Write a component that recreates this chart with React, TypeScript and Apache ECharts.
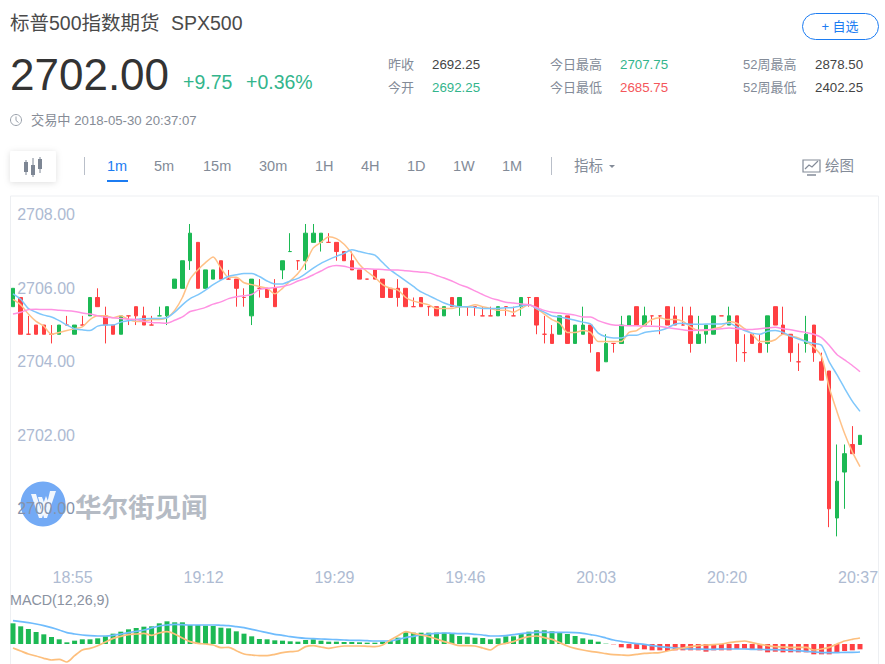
import React, { useEffect, useRef } from "react";
import * as echarts from "echarts";

const PRICE_BASE = 2700;
const START_MINUTE = 18 * 60 + 47;
const BAR_COUNT = 111;
const TICK_OFFSET = 8;
const TICK_STEP = 17;
const PRICE_TICKS = [2700, 2702, 2704, 2706, 2708];
const GREEN_DOJI = [19, 36];

const opens = [5.5,5.75,4.75,5,5,4.75,4.75,5,4.75,5,5.25,5.75,5.25,5,4.75,5.25,5.5,5.25,5,5.25,5.25,6,6,6.75,7.25,6,6.25,6.75,6.25,6.25,5.75,5.25,6,6,6,6.5,7,6.75,6.75,7.25,7.25,7.25,7.25,7,6.75,6.5,6.25,6.5,6.25,6,6,6,5.5,5.75,5.5,5.5,5.25,5.75,5.5,5.5,5.5,5.25,5.25,5.25,5.5,5.25,5.5,5.75,5.75,4.75,4.75,4.75,5.25,4.5,4.75,5,4.25,4,4.5,4.5,5,5.5,5,5.25,5.25,5.5,5.25,5,5.25,4.5,4.75,4.75,5.25,5,5.25,4.25,4.75,4.5,4.5,5.5,5,4.75,4,4.5,5,4,3.75,-0.25,1,1.75,1.75];
const closes = [6,4.75,4.75,4.75,4.75,4.75,5,5,5,5,5.75,5.5,5,4.75,5.25,5.25,5.25,5,5,5.25,5.5,6.25,6.75,7.5,6,6.5,6.5,6.25,6.25,6,5.75,6.25,6,5.75,5.5,6.75,7,6.75,7.5,7.5,7.5,7.25,7,6.75,6.5,6.25,6.25,6.25,5.75,5.75,5.75,5.5,5.5,5.5,5.5,5.25,5.5,5.5,5.75,5.5,5.5,5.25,5.25,5.5,5.5,5.25,5.75,5.75,5,4.75,4.5,5.25,4.5,5,5,4.5,3.75,4.5,4.5,5,5.25,5,5.25,5.25,5.25,5,5,5,4.5,4.75,5,5.25,5.25,5.25,4.5,4.25,4.5,4.25,5.25,5,4.75,4.25,4,4.75,4.25,3.5,0,0.75,1.5,1.5,2];
const lows = [5.5,4.75,4.75,4.75,4.75,4.5,4.75,5,4.75,5,5.25,5.5,4.5,4.75,4.75,5,5,5,5,5.25,5,6,6,6.5,6,6,6.25,6.25,6.25,5.5,5.5,5,5.75,5.75,5.5,6.25,7,6.5,6.5,7.25,7,7.25,6.75,6.75,6.5,6.25,6.25,6.25,5.75,5.75,5.5,5.5,5.5,5.5,5.25,5.25,5.25,5.5,5.25,5.25,5.25,5.25,5.25,5.25,5.25,5.25,5.25,5.5,4.75,4.5,4.5,4.75,4.5,4.5,4.75,4.25,3.75,4,4.25,4.5,5,5,5,5,4.75,5,5,5,4.25,4.5,4.5,4.75,5.25,5,4,4,4.5,4.25,4.25,5,4.75,4,3.75,4.25,4,3.5,-0.5,-0.75,0,1.5,1.75];
const highs = [6,5.75,5.25,5,5,5,5,5.25,5,5.25,5.75,6,5.5,5,5.25,5.25,5.5,5.5,5.25,5.5,5.5,6.25,6.75,7.75,7.25,6.5,6.5,6.75,6.5,6.25,6,6.25,6.25,6,6.25,6.75,7.5,6.75,7.75,7.75,7.5,7.5,7.25,7,7,6.5,6.25,6.5,6.25,6,6.25,6,5.75,5.75,5.5,5.5,5.5,5.75,5.75,5.5,5.5,5.5,5.5,5.5,5.5,5.5,5.75,5.75,5.75,5.25,5,5.25,5.25,5,5.5,5,4.25,4.75,4.5,5.25,5.25,5.5,5.5,5.25,5.25,5.5,5.5,5.5,5.5,5.25,5,5.25,5.25,5.5,5.25,4.75,4.75,4.75,5.25,5.5,5.5,4.75,4.5,5.25,5,4.25,3.75,1.75,1.75,2.25,2];
const ma5 = [5.7,5.55,5.3,5.1,4.97,4.75,4.8,4.85,4.9,4.95,5.15,5.25,5.25,5.2,5.25,5.15,5.1,5.1,5.15,5.15,5.2,5.4,5.75,6.25,6.5,6.7,6.85,6.55,6.3,6.3,6.15,6.1,6.05,6,5.85,6,6.2,6.4,6.7,7.1,7.25,7.4,7.35,7.2,6.95,6.65,6.45,6.3,6.1,6,5.95,5.75,5.65,5.6,5.55,5.45,5.45,5.45,5.5,5.5,5.55,5.5,5.45,5.4,5.4,5.35,5.45,5.55,5.45,5.3,5.15,5.05,4.8,4.8,4.85,4.8,4.55,4.55,4.55,4.55,4.8,4.85,5,5.15,5.2,5.15,5.15,5.1,4.95,4.85,4.85,4.9,4.95,5.1,5.05,4.9,4.75,4.55,4.55,4.6,4.75,4.7,4.65,4.55,4.4,4.15,3.3,2.65,2.05,1.55,1.15];
const ma10 = [5.85,5.7,5.45,5.35,5.27,5.22,5.12,5,4.9,4.87,4.85,4.97,5,5,5.08,5.12,5.15,5.17,5.18,5.18,5.2,5.35,5.55,5.72,5.82,5.95,6.1,6.22,6.33,6.37,6.4,6.4,6.32,6.2,6.12,6.12,6.2,6.27,6.4,6.55,6.68,6.78,6.87,6.95,7.05,7,6.95,6.9,6.7,6.5,6.35,6.2,6.05,5.9,5.8,5.7,5.6,5.53,5.5,5.5,5.48,5.45,5.45,5.45,5.47,5.48,5.52,5.55,5.45,5.35,5.25,5.22,5.18,5.13,5.08,5.03,4.78,4.68,4.65,4.65,4.72,4.72,4.8,4.83,4.85,4.92,5.03,5.05,5.02,5.02,5.03,5.03,5.03,5.05,4.95,4.85,4.78,4.75,4.83,4.85,4.8,4.7,4.62,4.55,4.5,4.45,4,3.65,3.28,2.93,2.65];
const ma20 = [5.3,5.35,5.42,5.43,5.42,5.42,5.4,5.39,5.37,5.33,5.3,5.25,5.21,5.2,5.18,5.16,5.15,5.1,5.07,5.06,5.05,5.13,5.22,5.37,5.42,5.48,5.57,5.63,5.72,5.77,5.8,5.83,5.97,6,6.02,6.05,6.1,6.2,6.27,6.37,6.47,6.58,6.62,6.6,6.55,6.54,6.53,6.52,6.51,6.5,6.5,6.48,6.46,6.44,6.42,6.35,6.28,6.2,6.1,6.03,5.93,5.83,5.74,5.68,5.62,5.6,5.57,5.55,5.48,5.4,5.35,5.33,5.3,5.27,5.22,5.22,5.12,5.05,5,4.99,4.98,4.98,4.97,4.97,4.96,4.93,4.9,4.87,4.85,4.86,4.87,4.88,4.9,4.92,4.9,4.88,4.88,4.9,4.92,4.94,4.9,4.87,4.83,4.8,4.75,4.66,4.45,4.2,4.05,3.9,3.73];
const macdHist = [62,53,45,36,29,21,14,5,10,14,14,17,23,31,37,44,48,52,53,62,68,65,65,57,57,55,54,49,47,38,31,23,15,14,11,10,8,7,12,14,10,7,7,6,6,5,4,4,7,12,19,35,34,34,34,34,34,30,24,22,19,18,14,17,23,23,31,37,41,41,38,34,30,24,17,13,7,1,-1,-10,-13,-15,-16,-19,-19,-21,-19,-19,-19,-19,-23,-19,-19,-19,-15,-14,-15,-19,-25,-23,-25,-25,-25,-25,-31,-31,-31,-26,-21,-19,-16];
const macdDif = [70,67,64,60,55,49,42,34,30,27,25,24,24,26,30,34,38,42,48,54,57,59,58,57,57,57,57,56,55,52,49,44,39,34,29,26,22,19,17,16,15,14,13,12,11,11,10,9,9,9,14,19,23,27,30,32,33,32,31,31,29,27,24,24,25,28,31,33,35,35,35,35,35,34,32,28,24,18,12,8,4,1,-1,-5,-8,-10,-12,-14,-15,-15,-16,-16,-15,-15,-15,-15,-16,-16,-17,-17,-18,-19,-20,-22,-24,-26,-26,-26,-25,-25,-24];
const macdDea = [-12,-21,-30,-36,-43,-48,-46,-54,-35,-18,-13,-5,6,17,23,28,30,32,26,33,37,30,18,7,2,0,-3,-11,-10,-20,-30,-33,-35,-35,-31,-26,-23,-21,-8,-5,-9,-13,-9,-6,-6,-6,-7,-8,-3,12,25,37,32,27,22,15,7,1,-5,-5,-6,-12,-18,-3,2,7,16,22,24,19,14,4,-6,-13,-18,-22,-25,-29,-32,-33,-34,-31,-28,-27,-26,-21,-16,-12,-8,-5,-3,-2,0,4,7,9,4,-1,-5,-8,-9,-10,-10,-10,-18,-15,-10,0,9,14,18];

const FONT = "'Liberation Sans','Noto Sans CJK SC',sans-serif";
const CJK = "'Noto Sans CJK SC','Liberation Sans',sans-serif";
const UP = "#1cb954";
const DOWN = "#ff3f42";
const TEAL = "#33b58c";
const BLUE = "#1c7cf2";
const MUTED = "#838b98";

const times = Array.from({ length: BAR_COUNT }, (_, i) => {
  const m = START_MINUTE + i;
  return `${String(Math.floor(m / 60)).padStart(2, "0")}:${String(m % 60).padStart(2, "0")}`;
});

const txt = (text: string, x: number, y: number, fontSize: number, fill: string, extra: any = {}) => ({
  type: "text",
  x,
  y,
  style: { text, fontSize, fill, fontFamily: FONT, textVerticalAlign: "middle", textBaseline: "middle", ...extra },
});

const periods: [string, number][] = [["5m",154],["15m",203],["30m",259],["1H",315],["4H",361],["1D",407],["1W",453],["1M",502]];
const stats: [string, number, string, number, string, number][] = [
  ["昨收",388,"2692.25",432,"#444",64],["今开",388,"2692.25",432,TEAL,87],
  ["今日最高",550,"2707.75",620,TEAL,64],["今日最低",550,"2685.75",620,"#f4565b",87],
  ["52周最高",743,"2878.50",815,"#444",64],["52周最低",743,"2402.25",815,"#444",87],
];

const graphics: any[] = [
  { type: "line", shape: { x1: 10.5, y1: 196, x2: 878.5, y2: 196 }, style: { stroke: "#edeff2", lineWidth: 1 } },
  { type: "line", shape: { x1: 10.5, y1: 196, x2: 10.5, y2: 664 }, style: { stroke: "#edeff2", lineWidth: 1 } },
  { type: "line", shape: { x1: 878.5, y1: 196, x2: 878.5, y2: 664 }, style: { stroke: "#edeff2", lineWidth: 1 } },
  // watermark
  { type: "circle", shape: { cx: 43, cy: 504, r: 22.5 }, style: { fill: "#73aaf5" } },
  { type: "polygon", shape: { points: [[31,494],[36,494],[41,510],[46,496],[48,501],[42,518],[39,518]] }, style: { fill: "#fff", opacity: 0.9 } },
  { type: "polygon", shape: { points: [[38,497],[42,497],[46,508],[50,491],[56,491],[47,518],[44,518]] }, style: { fill: "#fff", opacity: 0.9 } },
  txt("华尔街见闻", 75, 505, 26.5, "#b5bbc4", { fontWeight: "bold", fontFamily: CJK }),
  // header
  txt("标普500指数期货", 10, 23, 19.5, "#4a4a4a"),
  txt("SPX500", 171, 23, 19.5, "#4a4a4a"),
  txt("2702.00", 10, 74, 44, "#333"),
  txt("+9.75", 183, 82, 19.5, TEAL),
  txt("+0.36%", 246, 82, 19.5, TEAL),
  { type: "rect", shape: { x: 802.5, y: 13.5, width: 76, height: 26, r: 13 }, style: { fill: "#fff", stroke: BLUE, lineWidth: 1 } },
  txt("+ 自选", 840, 26.5, 13, BLUE, { textAlign: "center" }),
  { type: "circle", shape: { cx: 16, cy: 120, r: 5.5 }, style: { fill: "none", stroke: "#9aa1ab", lineWidth: 1 } },
  { type: "polyline", shape: { points: [[16,116.5],[16,120.5],[18.5,122.5]] }, style: { fill: "none", stroke: "#9aa1ab", lineWidth: 1 } },
  txt("交易中 2018-05-30 20:37:07", 31, 120, 13.2, "#868c96"),
  // toolbar
  { type: "rect", shape: { x: 10, y: 151, width: 46, height: 31, r: 2 }, style: { fill: "#fff", shadowBlur: 6, shadowColor: "rgba(0,0,0,0.13)", shadowOffsetY: 1 } },
  { type: "line", shape: { x1: 26, y1: 160, x2: 26, y2: 175 }, style: { stroke: "#7d8694", lineWidth: 1 } },
  { type: "rect", shape: { x: 24, y: 162, width: 4, height: 10 }, style: { fill: "#7d8694" } },
  { type: "line", shape: { x1: 33, y1: 158, x2: 33, y2: 177 }, style: { stroke: "#7d8694", lineWidth: 1 } },
  { type: "rect", shape: { x: 31, y: 165, width: 4, height: 10 }, style: { fill: "#7d8694" } },
  { type: "line", shape: { x1: 40, y1: 157, x2: 40, y2: 173 }, style: { stroke: "#7d8694", lineWidth: 1 } },
  { type: "rect", shape: { x: 38, y: 159, width: 4, height: 10 }, style: { fill: "#7d8694" } },
  { type: "line", shape: { x1: 84.5, y1: 157, x2: 84.5, y2: 175 }, style: { stroke: "#b9bfc9", lineWidth: 1 } },
  { type: "line", shape: { x1: 551.5, y1: 157, x2: 551.5, y2: 175 }, style: { stroke: "#b9bfc9", lineWidth: 1 } },
  txt("1m", 107, 166, 14.5, BLUE),
  { type: "rect", shape: { x: 107, y: 180, width: 21, height: 2 }, style: { fill: BLUE } },
  txt("指标", 574, 166, 14.5, MUTED),
  { type: "polygon", shape: { points: [[609,165],[615,165],[612,168]] }, style: { fill: MUTED } },
  txt("绘图", 825, 166, 14.5, MUTED),
  { type: "rect", shape: { x: 803, y: 160, width: 17, height: 12 }, style: { fill: "none", stroke: MUTED, lineWidth: 1.2 } },
  { type: "polyline", shape: { points: [[805,169],[809,165],[812,167],[818,161]] }, style: { fill: "none", stroke: MUTED, lineWidth: 1.2 } },
  { type: "line", shape: { x1: 807, y1: 175, x2: 816, y2: 175 }, style: { stroke: MUTED, lineWidth: 1.5 } },
  txt("MACD(12,26,9)", 10, 600, 14.3, "#8a92a1"),
];
periods.forEach(([t, x]) => graphics.push(txt(t, x, 166, 14.5, MUTED)));
stats.forEach(([label, lx, value, vx, color, y]) => {
  graphics.push(txt(label, lx, y, 13, MUTED));
  graphics.push(txt(value, vx, y, 13.3, color));
});

const solid = (c: string) => ({ color: c, color0: c, borderColor: c, borderColor0: c, borderColorDoji: c, borderWidth: 1 });
const candleData = opens.map((o, i) => {
  const up = o === closes[i] ? GREEN_DOJI.includes(i) : closes[i] > o;
  return {
    value: [o + PRICE_BASE, closes[i] + PRICE_BASE, lows[i] + PRICE_BASE, highs[i] + PRICE_BASE],
    itemStyle: solid(up ? UP : DOWN),
  };
});
const line = (name: string, data: number[], color: string, width: number, xAxisIndex = 0, yAxisIndex = 0) => ({
  name, type: "line", data, xAxisIndex, yAxisIndex, symbol: "none", smooth: 0.25, z: 5,
  lineStyle: { color, width }, silent: true,
});
const price = (a: number[]) => a.map((v) => v + PRICE_BASE);

export default function App() {
  const ref = useRef<HTMLDivElement>(null);
  useEffect(() => {
    const chart = echarts.init(ref.current!, undefined, { renderer: "svg" });
    chart.setOption({
      animation: false,
      backgroundColor: "#fff",
      textStyle: { fontFamily: FONT },
      graphic: { elements: graphics },
      grid: [
        { left: 9.15, width: 854.7, top: 214.8, height: 330.75 },
        { left: 9.15, width: 854.7, top: 610, height: 54 },
      ],
      xAxis: [
        {
          type: "category", data: times, gridIndex: 0,
          axisLine: { show: false }, axisTick: { show: false }, splitLine: { show: false },
          axisLabel: {
            interval: (i: number) => (i - TICK_OFFSET) % TICK_STEP === 0,
            color: "#aebbd2", fontSize: 16, margin: 24, padding: [0, 4, 0, 0], fontFamily: FONT,
          },
        },
        { type: "category", data: times, gridIndex: 1, show: false },
      ],
      yAxis: [
        {
          type: "value", gridIndex: 0, min: 2699, max: 2708, scale: true, z: 8,
          axisLine: { show: false }, axisTick: { show: false }, splitLine: { show: false },
          axisLabel: {
            inside: true, margin: 8, customValues: PRICE_TICKS,
            formatter: (v: number) => v.toFixed(2),
            color: (v: any) => (Number(v) === PRICE_TICKS[0] ? "#8592ab" : "#adbad2"),
            fontSize: 16, fontFamily: FONT,
          },
        },
        { type: "value", gridIndex: 1, min: -60, max: 102, show: false, splitLine: { show: false } },
      ],
      series: [
        { name: "K", type: "candlestick", data: candleData, barWidth: 4, xAxisIndex: 0, yAxisIndex: 0, z: 3, silent: true },
        line("MA5", price(ma5), "#ffc187", 1.5),
        line("MA10", price(ma10), "#7fc7fb", 1.5),
        line("MA20", price(ma20), "#ff92e2", 1.5),
        {
          name: "MACD", type: "bar", barWidth: 5, xAxisIndex: 1, yAxisIndex: 1, silent: true,
          data: macdHist.map((v) => ({ value: v, itemStyle: { color: v >= 0 ? UP : DOWN } })),
        },
        line("DIF", macdDif, "#6fbcfd", 1.7, 1, 1),
        line("DEA", macdDea, "#fdbf7d", 1.7, 1, 1),
      ],
    });
    return () => chart.dispose();
  }, []);
  return <div ref={ref} style={{ position: "fixed", left: 0, top: 0, width: 885, height: 664 }} />;
}
